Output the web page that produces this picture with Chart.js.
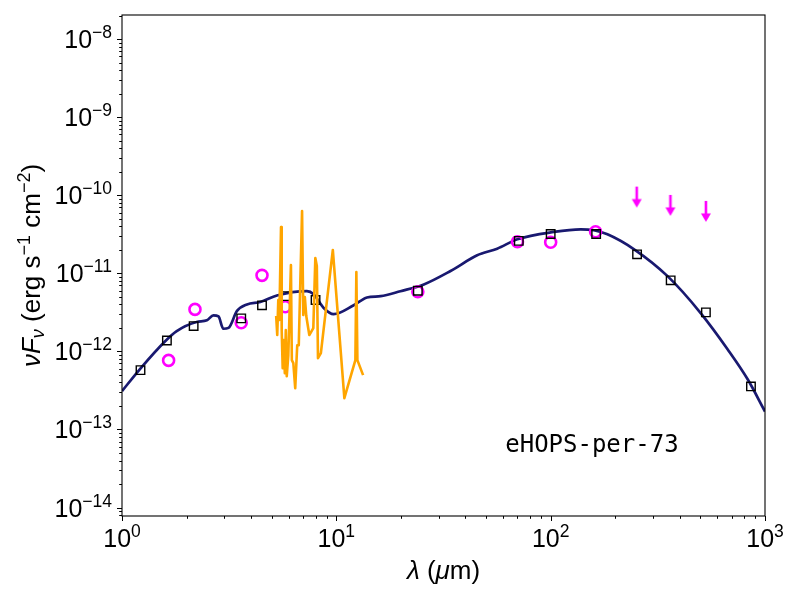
<!DOCTYPE html>
<html>
<head>
<meta charset="utf-8">
<script src="https://cdn.jsdelivr.net/npm/chart.js@4.4.0/dist/chart.umd.min.js"></script>
<style>
  html, body { margin: 0; padding: 0; background: #fff; }
  #wrap { width: 800px; height: 600px; }
</style>
</head>
<body>
<div id="wrap"><canvas id="sed"></canvas></div>
<script>
// model SED (navy line)
const modelWave = [1.0, 1.21, 1.59, 1.80, 2.23, 2.49, 2.67, 2.82, 2.97, 3.14, 3.44, 3.83, 4.42, 5.28, 7.29, 7.83, 8.73, 9.71, 12.05, 13.9, 16.1, 19.9, 25.6, 34.1, 45.4, 56.3, 69.9, 103.5, 138, 159, 184, 245, 351, 501, 670, 830, 1000];
const modelFlux = [3.1e-13, 5.9e-13, 1.35e-12, 1.82e-12, 2.38e-12, 2.5e-12, 2.9e-12, 2.8e-12, 1.95e-12, 2.0e-12, 3.3e-12, 4.0e-12, 4.3e-12, 5.2e-12, 5.9e-12, 5.4e-12, 3.6e-12, 3.0e-12, 3.9e-12, 4.9e-12, 5.1e-12, 5.9e-12, 7.2e-12, 1.07e-11, 1.70e-11, 2.07e-11, 2.73e-11, 3.39e-11, 3.66e-11, 3.56e-11, 3.16e-11, 2.03e-11, 9.2e-12, 3.1e-12, 1.06e-12, 4.4e-13, 1.7e-13];

// IRS spectrum (orange)
const irsWave = [5.24, 5.30, 5.36, 5.42, 5.52, 5.56, 5.62, 5.68, 5.75, 5.81, 5.87, 5.97, 6.14, 6.20, 6.30, 6.43, 6.57, 6.68, 6.92, 7.01, 7.13, 7.24, 7.48, 7.81, 7.98, 8.11, 8.21, 8.47, 9.63, 10.9, 12.27, 12.40, 12.54, 13.33];
const irsFlux = [2.84e-12, 1.62e-12, 4.55e-12, 2.52e-12, 3.92e-11, 1.87e-12, 6.1e-13, 1.40e-12, 5.27e-13, 1.87e-12, 4.82e-13, 8.97e-13, 1.28e-11, 7.73e-13, 7.08e-13, 3.38e-13, 1.20e-12, 1.20e-12, 6.29e-11, 2.92e-12, 4.97e-12, 2.84e-12, 1.62e-12, 1.99e-12, 1.57e-11, 1.24e-11, 8.2e-13, 9.5e-13, 1.99e-11, 2.52e-13, 7.73e-13, 1.04e-11, 7.73e-13, 4.97e-13];

// model photometry (black squares)
const synWave = [1.22, 1.62, 2.159, 3.6, 4.5, 5.8, 8.0, 24, 71, 100, 163, 253, 363, 530, 860];
const synFlux = [5.75e-13, 1.38e-12, 2.11e-12, 2.65e-12, 3.89e-12, 5.1e-12, 4.55e-12, 5.98e-12, 2.60e-11, 3.19e-11, 3.19e-11, 1.75e-11, 8.13e-12, 3.16e-12, 3.56e-13];

// observed photometry (magenta circles)
const obsWave = [1.65, 2.19, 3.6, 4.5, 5.78, 24, 70, 100, 162];
const obsFlux = [7.67e-13, 3.45e-12, 2.33e-12, 9.42e-12, 3.73e-12, 5.81e-12, 2.54e-11, 2.50e-11, 3.41e-11];

// upper limits (magenta arrows)
const limWave = [252, 362, 530];
const limFlux = [1.29e-10, 1.01e-10, 8.45e-11];

// axes
const xExps = [0, 1, 2, 3];
const yExps = [-14, -13, -12, -11, -10, -9, -8];
const xMin = 1, xMax = 1000;
const yMinExp = -14.108, yMaxExp = -7.692;

const sourceName = 'eHOPS-per-73';

const MAG = '#ff00ff';
const NAVY = '#191970';
const FONT = '"Liberation Sans", Arial, sans-serif';

function pts(xs, ys) {
    return xs.map((x, i) => ({ x: x, y: ys[i] }));
}

// arrow image used as point style for the upper limits (top of arrow = value)
function makeArrow() {
    const c = document.createElement('canvas');
    c.width = 12;
    c.height = 44;
    const g = c.getContext('2d');
    g.strokeStyle = MAG;
    g.fillStyle = MAG;
    g.lineWidth = 2.6;
    g.beginPath();
    g.moveTo(6, 22);
    g.lineTo(6, 36);
    g.stroke();
    g.beginPath();
    g.moveTo(1, 34.5);
    g.lineTo(11, 34.5);
    g.lineTo(6, 43);
    g.closePath();
    g.fill();
    return c;
}

// draw a list of text runs [{t, f, dy}] starting at x, baseline y
function runsWidth(ctx, runs) {
    let w = 0;
    runs.forEach(r => { ctx.font = r.f; w += ctx.measureText(r.t).width; });
    return w;
}
function drawRuns(ctx, runs, x, y) {
    runs.forEach(r => {
        ctx.font = r.f;
        ctx.fillText(r.t, x, y + (r.dy || 0));
        x += ctx.measureText(r.t).width;
    });
}

function powRuns(e) {
    const s = (e < 0 ? '\u2212' : '') + Math.abs(e);
    return [
        { t: '10', f: '25px ' + FONT, dy: 0 },
        { t: s, f: '17.5px ' + FONT, dy: -10 }
    ];
}

const decor = {
    id: 'decor',
    afterDatasetsDraw(chart) {
        const ctx = chart.ctx;
        const a = chart.chartArea;
        const xs = chart.scales.x;
        const ys = chart.scales.y;
        ctx.save();
        ctx.fillStyle = '#000';
        ctx.strokeStyle = '#000';

        // frame
        ctx.lineWidth = 1.1;
        ctx.strokeRect(a.left, a.top, a.right - a.left, a.bottom - a.top);

        // ticks (major + minor, outward)
        ctx.beginPath();
        for (let e = -1; e <= 3; e++) {
            for (let k = 1; k <= 9; k++) {
                const v = k * Math.pow(10, e);
                if (v < xMin || v > xMax) continue;
                const px = Math.round(xs.getPixelForValue(v)) + 0.5;
                const len = k === 1 ? 5 : 2.8;
                ctx.moveTo(px, a.bottom);
                ctx.lineTo(px, a.bottom + len);
            }
        }
        for (let e = -15; e <= -7; e++) {
            for (let k = 1; k <= 9; k++) {
                const lv = Math.log10(k) + e;
                if (lv < yMinExp || lv > yMaxExp) continue;
                const py = Math.round(ys.getPixelForValue(k * Math.pow(10, e))) + 0.5;
                const len = k === 1 ? 5 : 2.8;
                ctx.moveTo(a.left, py);
                ctx.lineTo(a.left - len, py);
            }
        }
        ctx.lineWidth = 1;
        ctx.stroke();

        // tick labels
        ctx.textBaseline = 'alphabetic';
        ctx.textAlign = 'left';
        yExps.forEach(e => {
            const py = ys.getPixelForValue(Math.pow(10, e));
            const r = powRuns(e);
            const w = runsWidth(ctx, r);
            drawRuns(ctx, r, a.left - 10 - w, py + 9);
        });
        xExps.forEach(e => {
            const px = xs.getPixelForValue(Math.pow(10, e));
            const r = powRuns(e);
            const w = runsWidth(ctx, r);
            drawRuns(ctx, r, px - w / 2, a.bottom + 31);
        });

        // x title
        const xt = [
            { t: '\u03bb', f: 'italic 26px ' + FONT },
            { t: ' (', f: '26px ' + FONT },
            { t: '\u03bc', f: 'italic 26px ' + FONT },
            { t: 'm)', f: '26px ' + FONT }
        ];
        const xw = runsWidth(ctx, xt);
        drawRuns(ctx, xt, (a.left + a.right) / 2 - xw / 2, 579);

        // y title (rotated)
        const yt = [
            { t: '\u03bd', f: 'italic 26px ' + FONT },
            { t: 'F', f: 'italic 26px ' + FONT },
            { t: '\u03bd', f: 'italic 18px ' + FONT, dy: 4 },
            { t: ' (erg s', f: '26px ' + FONT },
            { t: '\u22121', f: '18px ' + FONT, dy: -10 },
            { t: ' cm', f: '26px ' + FONT },
            { t: '\u22122', f: '18px ' + FONT, dy: -10 },
            { t: ')', f: '26px ' + FONT }
        ];
        const yw = runsWidth(ctx, yt);
        ctx.save();
        ctx.translate(40, (a.top + a.bottom) / 2);
        ctx.rotate(-Math.PI / 2);
        drawRuns(ctx, yt, -yw / 2, 0);
        ctx.restore();

        // source label
        ctx.font = '24px "DejaVu Sans Mono", monospace';
        ctx.fillText(sourceName, a.left + 0.596 * (a.right - a.left), a.top + 0.873 * (a.bottom - a.top));

        ctx.restore();
    }
};

const ctx = document.getElementById('sed').getContext('2d');

const sedChart = new Chart(ctx, {
    type: 'line',
    data: {
        datasets: [
            {
                // IRS spectrum on top
                data: pts(irsWave, irsFlux),
                borderColor: 'orange',
                borderWidth: 2.6,
                borderJoinStyle: 'round',
                pointRadius: 0,
                tension: 0
            },
            {
                data: pts(synWave, synFlux),
                showLine: false,
                pointStyle: 'rect',
                pointRadius: 6,
                borderColor: '#000',
                borderWidth: 1.4,
                backgroundColor: 'rgba(0,0,0,0)'
            },
            {
                data: pts(obsWave, obsFlux),
                showLine: false,
                pointStyle: 'circle',
                pointRadius: 5.5,
                borderColor: MAG,
                borderWidth: 2.6,
                backgroundColor: 'rgba(0,0,0,0)'
            },
            {
                data: pts(limWave, limFlux),
                showLine: false,
                pointStyle: makeArrow(),
                pointRadius: 5
            },
            {
                data: pts(modelWave, modelFlux),
                borderColor: NAVY,
                borderWidth: 2.7,
                pointRadius: 0,
                cubicInterpolationMode: 'monotone'
            }
        ]
    },
    options: {
        responsive: true,
        maintainAspectRatio: false,
        animation: false,
        events: [],
        layout: {
            padding: { top: 15, right: 35, left: 0, bottom: 0 }
        },
        plugins: {
            legend: { display: false },
            title: { display: false },
            tooltip: { enabled: false }
        },
        scales: {
            x: {
                type: 'logarithmic',
                min: xMin,
                max: xMax,
                grid: { display: false },
                border: { display: false },
                ticks: { display: false },
                afterFit(scale) { scale.height = 84; }
            },
            y: {
                type: 'logarithmic',
                min: Math.pow(10, yMinExp),
                max: Math.pow(10, yMaxExp),
                grid: { display: false },
                border: { display: false },
                ticks: { display: false },
                afterFit(scale) { scale.width = 122; }
            }
        }
    },
    plugins: [decor]
});
</script>
</body>
</html>
